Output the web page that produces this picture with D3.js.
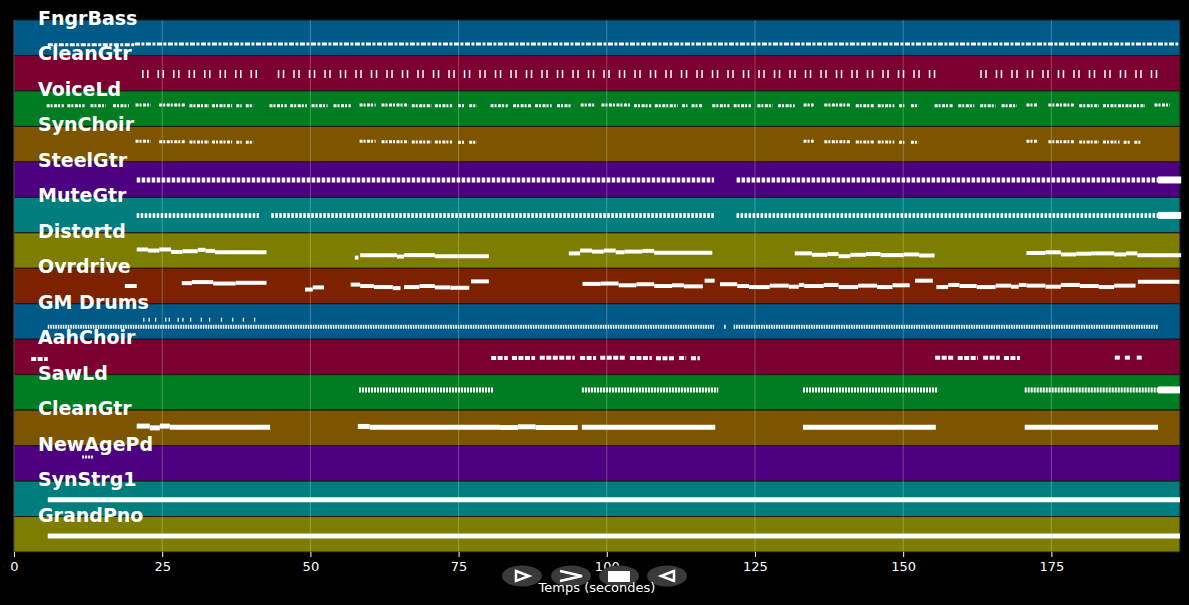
<!DOCTYPE html>
<html>
<head>
<meta charset="utf-8">
<script src="https://cdn.jsdelivr.net/npm/d3@7/dist/d3.min.js"></script>
<style>
  html, body { margin: 0; background: #000; }
  svg { display: block; font-family: "DejaVu Sans", sans-serif; }
</style>
</head>
<body>
<div id="chart"></div>
<script>
// track names, top to bottom
const trackNames = ['FngrBass', 'CleanGtr', 'VoiceLd', 'SynChoir', 'SteelGtr', 'MuteGtr', 'Distortd', 'Ovrdrive',
  'GM Drums', 'AahChoir', 'SawLd', 'CleanGtr', 'NewAgePd', 'SynStrg1', 'GrandPno'];

const timeTicks = [0, 25, 50, 75, 100, 125, 150, 175];
const timeMax = 196.7;

// notes: [start s, end s, pitch level 0-100 within the lane]
const fngrBassNotes = [[5.7, 20.4, 30], [20.4, 196.4, 32]];
const cleanGtrNotes = [[21.6, 41.3, 48], [44.5, 155.5, 48], [163.0, 193.0, 48]];
const voiceLdNotes = [
  [5.5, 8.4, 58], [9.0, 11.9, 58], [12.9, 15.5, 58], [16.7, 19.4, 58], [20.5, 23.1, 60], [24.5, 28.9, 60],
  [29.6, 32.9, 58], [33.4, 36.8, 58], [37.5, 38.4, 58], [39.1, 40.4, 58],
  [43.1, 46.0, 58], [46.6, 49.4, 58], [50.2, 52.9, 58], [53.9, 56.8, 58], [58.3, 61.0, 60], [62.0, 66.5, 60],
  [67.1, 70.4, 58], [71.0, 73.9, 58], [74.9, 76.1, 58], [76.8, 78.1, 58],
  [80.4, 83.3, 58], [84.2, 87.2, 58], [87.9, 90.7, 58], [91.6, 93.9, 58], [95.6, 98.1, 60], [99.1, 104.0, 60],
  [104.6, 107.5, 58], [108.1, 112.0, 58], [112.7, 113.6, 58], [114.3, 116.2, 58],
  [117.8, 120.7, 58], [121.4, 124.3, 58], [125.4, 128.0, 58], [128.9, 131.7, 58], [133.2, 134.9, 60], [136.7, 141.1, 60],
  [142.0, 145.1, 58], [145.7, 148.5, 58], [149.3, 150.2, 58], [151.3, 152.6, 58],
  [155.3, 158.4, 58], [159.3, 162.0, 58], [163.0, 165.6, 58], [166.6, 169.2, 58], [170.8, 172.6, 60], [174.5, 178.8, 60],
  [179.7, 183.0, 58], [183.7, 190.8, 58], [192.4, 195.0, 60]
];
const synChoirNotes = [
  [20.5, 23.1, 58], [24.5, 28.9, 57], [29.6, 32.9, 56], [33.4, 36.8, 56], [37.5, 38.4, 55], [39.1, 40.4, 55],
  [58.3, 61.0, 58], [62.0, 66.5, 57], [67.1, 70.4, 56], [71.0, 73.9, 56], [74.9, 76.1, 55], [76.8, 78.1, 55],
  [133.2, 134.9, 58], [136.7, 141.1, 57], [142.0, 145.1, 56], [145.7, 148.5, 56], [149.3, 150.2, 55], [151.3, 152.6, 55],
  [170.8, 172.6, 58], [174.5, 178.8, 57], [179.7, 183.0, 56], [183.7, 186.5, 56], [187.2, 188.3, 55], [189.0, 190.0, 55]
];
const steelGtrNotes = [[20.7, 118.1, 49], [121.9, 193.0, 49]];
const muteGtrNotes = [[20.7, 41.3, 49], [43.4, 118.1, 49], [121.9, 193.0, 49]];
const distortdNotes = [
  [20.7, 22.6, 53], [22.6, 24.5, 50], [24.5, 26.5, 53], [26.5, 28.4, 46], [28.4, 31.0, 48], [31.0, 32.3, 52], [32.3, 33.9, 49], [33.9, 42.6, 45],
  [57.5, 58.1, 30], [58.4, 64.6, 37], [64.6, 65.8, 33], [65.8, 71.0, 37], [71.0, 80.1, 34],
  [93.6, 95.5, 42], [95.5, 97.5, 50], [97.5, 99.5, 47], [99.5, 101.5, 50], [101.5, 103.0, 45], [103.0, 106.0, 47], [106.0, 108.0, 49], [108.0, 117.8, 44],
  [131.7, 134.6, 42], [134.6, 137.2, 38], [137.2, 139.1, 40], [139.1, 141.1, 34], [141.1, 143.7, 38], [143.7, 146.2, 40], [146.2, 150.1, 37], [150.1, 152.7, 39], [152.7, 155.3, 36],
  [170.8, 174.0, 43], [174.0, 176.6, 45], [176.6, 179.2, 39], [179.2, 181.7, 41], [181.7, 185.6, 42], [185.6, 187.6, 39], [187.6, 189.5, 42], [189.5, 196.9, 37]
];
const ovrdriveNotes = [
  [18.7, 20.7, 50],
  [28.3, 30.0, 58], [30.0, 33.6, 61], [33.6, 37.4, 57], [37.4, 42.6, 59],
  [49.1, 50.4, 40], [50.4, 52.3, 46],
  [56.8, 58.4, 54], [58.4, 60.7, 50], [60.7, 63.9, 47], [63.9, 65.2, 44], [65.8, 68.4, 47], [68.4, 71.0, 50], [71.0, 73.6, 46], [73.6, 76.8, 45],
  [77.1, 80.1, 63],
  [95.9, 99.0, 56], [99.0, 102.0, 57], [102.0, 105.0, 52], [105.0, 108.0, 55], [108.0, 111.0, 50], [111.0, 113.0, 52], [113.0, 116.2, 49],
  [116.5, 118.2, 65],
  [119.1, 122.0, 55], [122.0, 124.0, 50], [124.0, 127.5, 47], [127.5, 130.7, 51], [130.7, 132.4, 48], [132.4, 133.3, 53], [133.3, 136.6, 50],
  [136.6, 139.1, 53], [139.1, 142.4, 47], [142.4, 145.6, 51], [145.6, 148.2, 47], [148.2, 151.1, 52],
  [152.0, 155.0, 65],
  [155.6, 157.6, 47], [157.6, 159.5, 53], [159.5, 162.4, 50], [162.4, 165.6, 47], [165.6, 168.2, 51], [168.2, 169.5, 48], [169.5, 170.8, 53],
  [170.8, 174.0, 51], [174.0, 176.6, 48], [176.6, 179.8, 53], [179.8, 183.0, 50], [183.0, 185.6, 47], [185.6, 189.2, 51],
  [189.6, 196.6, 62]
];
const gmDrumsNotes = [
  [5.7, 118.1, 35], [119.8, 120.1, 35], [121.4, 193.0, 35],
  [21.8, 22.0, 55], [22.7, 22.9, 55], [23.8, 24.0, 55], [25.5, 25.7, 55], [26.1, 26.3, 55], [27.6, 27.8, 55], [28.4, 28.6, 55],
  [29.7, 29.9, 55], [31.5, 31.7, 55], [32.9, 33.1, 55], [34.9, 35.1, 55], [36.8, 37.0, 55], [38.6, 38.8, 55], [40.5, 40.7, 55]
];
const aahChoirNotes = [
  [2.9, 5.7, 44],
  [80.5, 83.3, 47], [84.0, 87.9, 47], [88.7, 94.6, 48], [95.5, 98.2, 47], [98.9, 103.1, 48], [103.9, 107.6, 47],
  [108.3, 111.5, 46], [112.2, 113.4, 47], [114.2, 115.7, 46],
  [155.4, 158.7, 48], [159.2, 162.6, 47], [163.5, 166.3, 48], [167.0, 169.7, 47],
  [185.7, 186.6, 48], [187.4, 188.3, 48], [189.4, 190.3, 48]
];
const sawLdNotes = [[58.2, 80.8, 57], [95.8, 118.8, 57], [133.1, 155.9, 57], [170.5, 193.0, 57]];
const cleanGtr2Notes = [
  [20.7, 22.9, 55], [22.9, 24.6, 50], [24.6, 26.3, 55], [26.3, 43.2, 52],
  [58.0, 60.0, 54], [60.0, 82.0, 52], [82.0, 85.0, 51], [85.0, 88.0, 53], [88.0, 95.1, 51],
  [95.8, 118.3, 52], [133.1, 155.5, 52], [170.5, 193.0, 52]
];
const newAgePdNotes = [[11.5, 13.3, 68]];
const synStrg1Notes = [[5.7, 196.7, 47]];
const grandPnoNotes = [[5.7, 196.7, 45]];

// final held chords: [track index, start s, end s, pitch level]
const heldNotes = [[4, 193.0, 196.9, 49], [5, 193.0, 196.9, 49], [10, 193.0, 196.7, 57]];

const trackNotes = [fngrBassNotes, cleanGtrNotes, voiceLdNotes, synChoirNotes, steelGtrNotes, muteGtrNotes,
  distortdNotes, ovrdriveNotes, gmDrumsNotes, aahChoirNotes, sawLdNotes, cleanGtr2Notes, newAgePdNotes,
  synStrg1Notes, grandPnoNotes];

// look
const palette = ['#005a87', '#7b0030', '#007d22', '#7d5500', '#4d0080', '#007d7d', '#7d7d00', '#7d2200'];
const noteStyles = [
  { w: 3, dash: '5,1.5,3,1.5' },
  { w: 8, dash: '1.5,3.5,1.5,9' },
  { w: 3, dash: '3,1,2,1.5' },
  { w: 3, dash: '3,1,2,1.5' },
  { w: 5, dash: '3.5,1.5' },
  { w: 5, dash: '2.5,1.5' },
  { w: 4, dash: null },
  { w: 4, dash: null },
  { w: 4, dash: '1.5,1' },
  { w: 4, dash: '5,1.5' },
  { w: 5, dash: '2,1' },
  { w: 5, dash: null },
  { w: 3, dash: '2,1' },
  { w: 5, dash: null },
  { w: 5, dash: null }
];

const width = 1189, height = 605;
const margin = { top: 20, right: 9, bottom: 53, left: 14 };

const svg = d3.select('#chart').append('svg')
  .attr('width', width)
  .attr('height', height)
  .style('background', '#000');

const x = d3.scaleLinear().domain([0, timeMax]).range([margin.left, width - margin.right]);
const lanes = d3.scaleBand().domain(d3.range(trackNames.length)).range([margin.top, height - margin.bottom]);
const pitch = d3.scaleLinear().domain([0, 100]).range([lanes.bandwidth(), 0]);

// lanes
svg.append('g').selectAll('rect')
  .data(trackNames)
  .join('rect')
  .attr('x', x(0))
  .attr('y', (d, i) => lanes(i))
  .attr('width', x(timeMax) - x(0))
  .attr('height', lanes.bandwidth())
  .attr('fill', (d, i) => palette[i % palette.length])
  .attr('stroke', '#1a1a1a')
  .attr('stroke-width', 1);

// vertical grid
svg.append('g').selectAll('line')
  .data(timeTicks)
  .join('line')
  .attr('x1', d => x(d)).attr('x2', d => x(d))
  .attr('y1', margin.top).attr('y2', height - margin.bottom)
  .attr('stroke', '#fff')
  .attr('stroke-opacity', 0.25)
  .attr('stroke-width', 1);

// notes
trackNotes.forEach((notes, i) => {
  const st = noteStyles[i];
  svg.append('g').selectAll('line')
    .data(notes)
    .join('line')
    .attr('x1', d => x(d[0]))
    .attr('x2', d => x(d[1]))
    .attr('y1', d => lanes(i) + pitch(d[2]))
    .attr('y2', d => lanes(i) + pitch(d[2]))
    .attr('stroke', '#fff')
    .attr('stroke-width', st.w)
    .attr('stroke-dasharray', st.dash);
});

// held chords at the end
svg.append('g').selectAll('line')
  .data(heldNotes)
  .join('line')
  .attr('x1', d => x(d[1]))
  .attr('x2', d => x(d[2]))
  .attr('y1', d => lanes(d[0]) + pitch(d[3]))
  .attr('y2', d => lanes(d[0]) + pitch(d[3]))
  .attr('stroke', '#fff')
  .attr('stroke-width', 7);

// lane labels
svg.append('g').selectAll('text')
  .data(trackNames)
  .join('text')
  .attr('x', 38)
  .attr('y', (d, i) => lanes(i) + 5)
  .attr('fill', '#fff')
  .attr('font-size', 19)
  .attr('font-weight', 'bold')
  .text(d => d);

// x axis
const xAxis = d3.axisBottom(x).tickValues(timeTicks).tickSize(5).tickPadding(5);
const gx = svg.append('g')
  .attr('transform', 'translate(0,' + (height - margin.bottom) + ')')
  .call(xAxis);
gx.select('.domain').remove();
gx.selectAll('.tick line').attr('stroke', '#fff');
gx.selectAll('.tick text').attr('fill', '#fff').attr('font-size', 13).attr('font-family', '"DejaVu Sans", sans-serif');

// player buttons overlay
const buttons = svg.append('g');
[522, 571, 619, 667].forEach((cx, k) => {
  buttons.append('ellipse')
    .attr('cx', cx).attr('cy', 576).attr('rx', 20).attr('ry', 10.5)
    .attr('fill', '#3a3a3a');
  const b = buttons.append('g').attr('transform', 'translate(' + cx + ',576)');
  if (k === 0) {
    b.append('path').attr('d', 'M-6,-5 L7,0 L-6,5 Z').attr('fill', 'none').attr('stroke', '#fff').attr('stroke-width', 2.5);
  } else if (k === 1) {
    b.append('path').attr('d', 'M-11,-5 L11,0 L-11,5').attr('fill', 'none').attr('stroke', '#fff').attr('stroke-width', 2.5);
  } else if (k === 2) {
    b.append('rect').attr('x', -11).attr('y', -5).attr('width', 22).attr('height', 11).attr('fill', '#fff');
  } else {
    b.append('path').attr('d', 'M7,-5 L-6,0 L7,5 Z').attr('fill', 'none').attr('stroke', '#fff').attr('stroke-width', 2.5);
  }
});

// axis title
svg.append('text')
  .attr('x', (x(0) + x(timeMax)) / 2)
  .attr('y', 592)
  .attr('text-anchor', 'middle')
  .attr('fill', '#fff')
  .attr('font-size', 13)
  .text('Temps (secondes)');
</script>
</body>
</html>
